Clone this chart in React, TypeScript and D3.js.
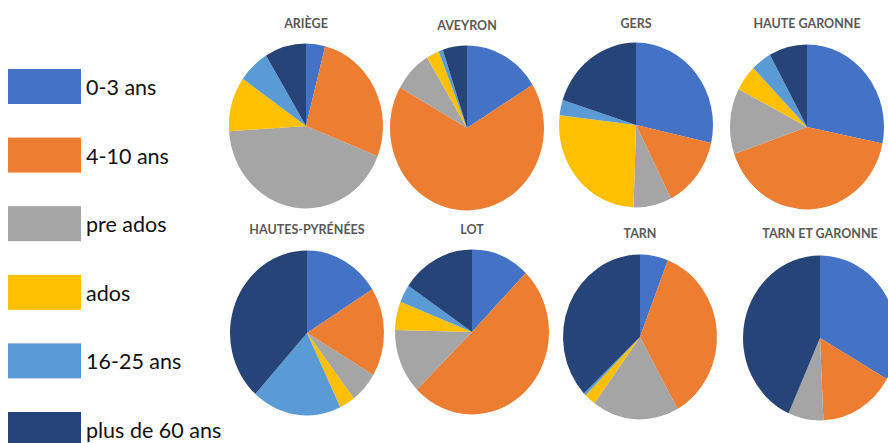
import React from "react";
import * as d3 from "d3";

// Age groups (legend order = slice order, clockwise from 12 o'clock)
const ageGroups = ["0-3 ans", "4-10 ans", "pre ados", "ados", "16-25 ans", "plus de 60 ans"];
const groupColors = ["#4472C4", "#ED7D31", "#A5A5A5", "#FFC000", "#5B9BD5", "#264478"];

// Departments, one pie each
const departments = [
  "ARIÈGE",
  "AVEYRON",
  "GERS",
  "HAUTE GARONNE",
  "HAUTES-PYRÉNÉES",
  "LOT",
  "TARN",
  "TARN ET GARONNE",
];

// Share (%) of each age group per department
const ariege = [4, 27, 43, 10.7, 6.6, 8.7];
const aveyron = [16.2, 67, 8.1, 2.7, 0.9, 5.1];
const gers = [28.5, 14, 8, 26.4, 3, 20.1];
const hauteGaronne = [28.2, 41.5, 12.9, 5.1, 4.3, 8];
const hautesPyrenees = [16.1, 17.4, 6.1, 3.3, 18.8, 38.3];
const lot = [12.3, 50.4, 12.7, 5.6, 3.5, 15.5];
const tarn = [5.9, 36, 18.2, 2.4, 0.5, 37];
const tarnEtGaronne = [33.3, 16, 7.4, 0, 0, 43.3];

const seriesByDept = [ariege, aveyron, gers, hauteGaronne, hautesPyrenees, lot, tarn, tarnEtGaronne];

// Pie centres and title baselines
const pieLayout = [
  { cx: 306, cy: 126, ty: 28 },
  { cx: 467, cy: 128, ty: 30 },
  { cx: 636, cy: 125, ty: 28 },
  { cx: 807, cy: 127, ty: 28 },
  { cx: 307, cy: 333, ty: 234 },
  { cx: 472, cy: 332, ty: 234 },
  { cx: 640, cy: 337, ty: 238 },
  { cx: 820, cy: 338, ty: 238 },
];

const WIDTH = 888;
const HEIGHT = 443;
const RADIUS = 77;
const Y_STRETCH = 1.07;

export default function App() {
  const pie = d3
    .pie<number>()
    .sort(null)
    .value((d) => d);
  const arc = d3.arc<d3.PieArcDatum<number>>().innerRadius(0).outerRadius(RADIUS);

  const legendY = d3
    .scalePoint<string>()
    .domain(ageGroups)
    .range([69, 412]);

  return (
    <svg
      width={WIDTH}
      height={HEIGHT}
      style={{ position: "absolute", left: 0, top: 0, background: "#fff" }}
    >
      <rect x={0} y={0} width={WIDTH} height={HEIGHT} fill="#fff" />

      {/* legend */}
      <g>
        {ageGroups.map((g, i) => {
          const y = legendY(g) as number;
          return (
            <g key={g}>
              <rect x={8} y={y} width={73} height={35} fill={groupColors[i]} />
              <text
                x={86}
                y={y + 26}
                fontFamily="Lato, 'Open Sans', sans-serif"
                fontSize={21.5}
                fill="#111"
              >
                {g}
              </text>
            </g>
          );
        })}
      </g>

      {/* pies */}
      {departments.map((name, k) => {
        const { cx, cy, ty } = pieLayout[k];
        const arcs = pie(seriesByDept[k]);
        return (
          <g key={name}>
            <text
              x={cx}
              y={ty}
              textAnchor="middle"
              fontFamily="Lato, 'Open Sans', sans-serif"
              fontWeight={700}
              fontSize={12.5}
              fill="#595959"
            >
              {name}
            </text>
            <g transform={`translate(${cx},${cy}) scale(1,${Y_STRETCH})`}>
              {arcs.map((a, i) =>
                a.value > 0 ? (
                  <path key={i} d={arc(a) as string} fill={groupColors[i]} />
                ) : null
              )}
            </g>
          </g>
        );
      })}
    </svg>
  );
}
